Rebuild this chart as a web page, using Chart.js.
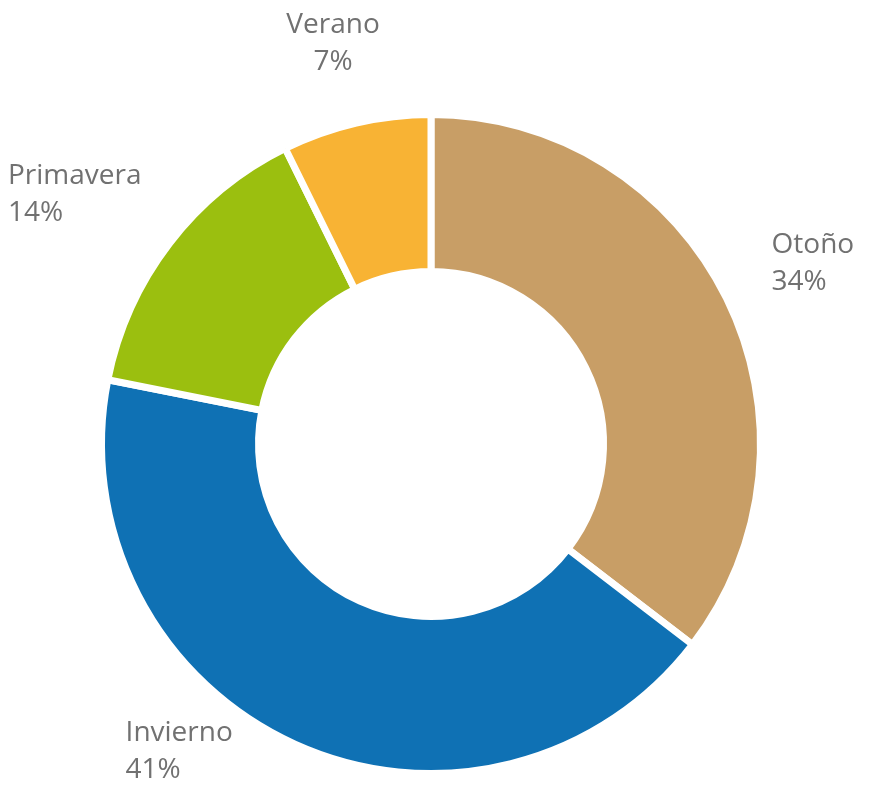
<!DOCTYPE html>
<html lang="es">
<head>
<meta charset="utf-8">
<title>Distribución por estación</title>
<script src="https://cdn.jsdelivr.net/npm/chart.js@4.4.1/dist/chart.umd.min.js"></script>
<style>
  html, body { margin: 0; padding: 0; background: #ffffff; }
  #wrap { width: 888px; height: 786px; position: relative; }
</style>
</head>
<body>
<div id="wrap"><canvas id="chart"></canvas></div>
<script>
// Seasons, their shares (%) and slice colours
const seasons = ['Otoño', 'Invierno', 'Primavera', 'Verano'];
const shares = [34, 41, 14, 7];
const sliceColors = ['#C89E66', '#0F71B4', '#9BBF0F', '#F8B334'];

const LABEL_FONT = '28px "Open Sans", "Noto Sans", sans-serif';
const LABEL_COLOR = '#717171';
const CAP_HEIGHT = 21;     // top of first line to its baseline
const LINE_HEIGHT = 37;    // baseline to baseline
const LABEL_GAP = 55;      // distance from ring to label box
const MIN_RING_GAP = 10;   // labels never come closer than this to the ring

// Two-line labels (name + percentage) placed outside each slice
const outerLabels = {
  id: 'outerLabels',
  afterDatasetsDraw(chart) {
    const ctx = chart.ctx;
    const meta = chart.getDatasetMeta(0);
    const W = chart.width, H = chart.height;
    ctx.save();
    ctx.font = LABEL_FONT;
    ctx.fillStyle = LABEL_COLOR;
    ctx.textBaseline = 'alphabetic';
    meta.data.forEach((arc, i) => {
      const p = arc.getProps(['x', 'y', 'startAngle', 'endAngle', 'outerRadius'], true);
      const mid = (p.startAngle + p.endAngle) / 2;
      const ux = Math.cos(mid), uy = Math.sin(mid);
      const lines = [seasons[i], shares[i] + '%'];
      const widths = lines.map(t => ctx.measureText(t).width);
      const w = Math.max(...widths);
      const h = CAP_HEIGHT + LINE_HEIGHT;
      const r = p.outerRadius + LABEL_GAP;
      let cx = p.x + ux * r + ux * w / 2;
      let cy = p.y + uy * r + uy * h / 2;
      // keep the box on the canvas
      cx = Math.min(Math.max(cx, 8 + w / 2), W - 6 - w / 2);
      cy = Math.min(Math.max(cy, 8 + h / 2), H - 8 - h / 2);
      // slide sideways if the clamped box would touch the ring
      const dir = ux >= 0 ? 1 : -1;
      const nearest = () => {
        const nx = Math.min(Math.max(p.x, cx - w / 2), cx + w / 2);
        const ny = Math.min(Math.max(p.y, cy - h / 2), cy + h / 2);
        return Math.hypot(nx - p.x, ny - p.y);
      };
      let guard = 0;
      while (nearest() < p.outerRadius + MIN_RING_GAP && guard++ < 600) cx += dir;
      const centred = Math.abs(ux) < 0.3;
      const top = cy - h / 2;
      lines.forEach((t, k) => {
        const lx = centred ? cx - widths[k] / 2 : cx - w / 2;
        ctx.fillText(t, lx, top + CAP_HEIGHT + k * LINE_HEIGHT);
      });
    });
    ctx.restore();
  }
};

new Chart(document.getElementById('chart'), {
  type: 'doughnut',
  data: {
    labels: seasons,
    datasets: [{
      data: shares,
      backgroundColor: sliceColors,
      borderColor: '#ffffff',
      borderWidth: 7,
      borderJoinStyle: 'miter',
      hoverOffset: 0
    }]
  },
  options: {
    responsive: true,
    maintainAspectRatio: false,
    devicePixelRatio: 1,
    animation: false,
    cutout: '52.35%',
    layout: { padding: { left: 98, right: 124, top: 111, bottom: 9 } },
    plugins: {
      legend: { display: false },
      tooltip: { enabled: false }
    }
  },
  plugins: [outerLabels]
});
</script>
</body>
</html>
